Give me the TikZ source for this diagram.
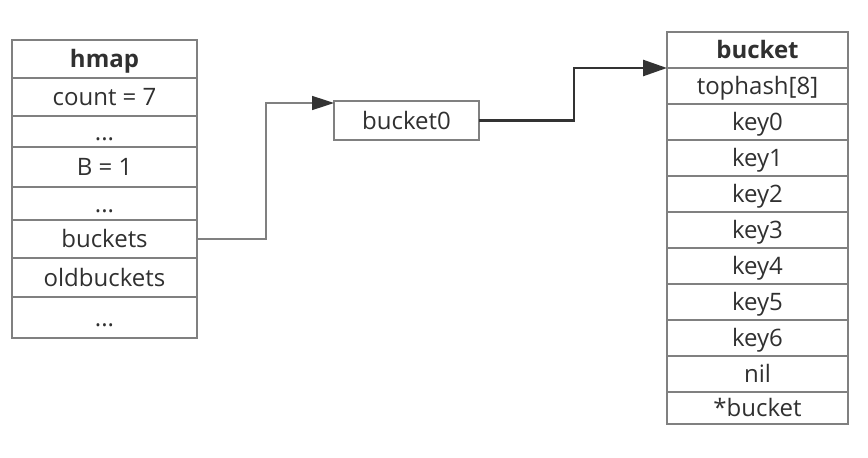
\documentclass[tikz,border=0pt]{standalone}
\usepackage{fontspec}
\setmainfont{Open Sans}
\usepackage{tikz}
\usetikzlibrary{positioning, arrows.meta}
\definecolor{linegray}{HTML}{808080}
\definecolor{textgray}{HTML}{303030}
\definecolor{darkline}{HTML}{333333}
\newcommand{\cellfont}{\fontsize{24}{29}\selectfont}
\tikzstyle{hfield} = [rectangle, minimum width=185pt, inner sep=0pt, outer sep=0pt, text height=17pt, text depth=0pt, text centered, draw=linegray, line width=1.8pt, text=textgray, font=\cellfont]
\tikzstyle{bfield} = [hfield, minimum width=181pt, minimum height=36pt]
\tikzstyle{ptr} = [line width=1.6pt, draw=linegray, -{Triangle[length=22pt,width=14pt,color=darkline]}]
\tikzstyle{thickptr} = [line width=2.6pt, draw=darkline, -{Triangle[length=24pt,width=16pt]}]

\begin{document}
\begin{tikzpicture}[x=1pt, y=-1pt, node distance=0pt]
    \useasboundingbox (0,0) rectangle (868,458);
    % hmap
    \node (hmap) [hfield, minimum height=38pt, anchor=north west, font=\cellfont\bfseries] at (12,40) {hmap};
    \node (count) [hfield, minimum height=38pt, below=of hmap] {count = 7};
    \node (dotsa) [hfield, minimum height=31pt, below=of count] {...};
    \node (bnum) [hfield, minimum height=40pt, below=of dotsa] {B = 1};
    \node (dotsb) [hfield, minimum height=33pt, below=of bnum] {...};
    \node (buckets) [hfield, minimum height=38pt, below=of dotsb] {buckets};
    \node (oldbuckets) [hfield, minimum height=39pt, below=of buckets] {oldbuckets};
    \node (dotsc) [hfield, minimum height=41pt, below=of oldbuckets] {...};

    \node (bucket0) [hfield, minimum width=145pt, minimum height=39pt, anchor=north west] at (334,101) {bucket0};

    % bucket
    \node (bucket) [bfield, anchor=north west, font=\cellfont\bfseries] at (667,32) {bucket};
    \node (tophash) [bfield, below=of bucket] {tophash[8]};
    \node (key0) [bfield, below=of tophash] {key0};
    \node (key1) [bfield, below=of key0] {key1};
    \node (key2) [bfield, below=of key1] {key2};
    \node (key3) [bfield, below=of key2] {key3};
    \node (key4) [bfield, below=of key3] {key4};
    \node (key5) [bfield, below=of key4] {key5};
    \node (key6) [bfield, below=of key5] {key6};
    \node (nil) [bfield, below=of key6] {nil};
    \node (overflow) [bfield, minimum height=32pt, below=of nil] {*bucket};

    \draw [ptr] (buckets.east) -- ++(69,0) |- ([yshift=-2pt]bucket0.north west);
    \draw [thickptr] (bucket0.east) -- ++(95,0) |- (bucket.south west);
\end{tikzpicture}
\end{document}
